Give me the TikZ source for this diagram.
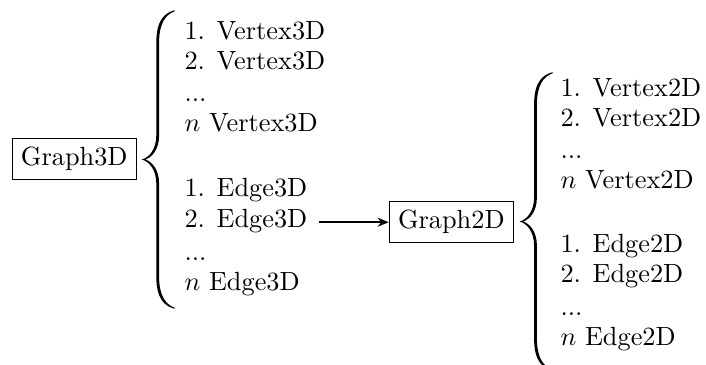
\documentclass[tikz,border=0pt]{standalone}
\usetikzlibrary{arrows.meta}
\begin{document}
\begin{tikzpicture}[x=0.38023pt,y=-0.38023pt,
  item/.style={anchor=base west,inner sep=0pt},
  gbox/.style={draw,line width=0.4pt,inner sep=3.33pt},
  conn/.style={line width=0.7pt,-{Stealth[length=4.2pt,width=3.4pt]}},
  bracepic/.pic={
    \fill (33,-149.3) .. controls (22.5,-146.5) and (14.6,-139) .. (14.6,-117)
      -- (14.6,-24) .. controls (14.6,-10) and (7,-1.5) .. (0,0)
      .. controls (7,1.5) and (14.6,10) .. (14.6,24)
      -- (14.6,117) .. controls (14.6,139) and (22.5,146.5) .. (33,149.3)
      -- (33,148.2) .. controls (24.5,145.3) and (17.4,137) .. (17.4,117)
      -- (17.4,24) .. controls (17.4,10) and (10,1.8) .. (3.5,0)
      .. controls (10,-1.8) and (17.4,-10) .. (17.4,-24)
      -- (17.4,-117) .. controls (17.4,-137) and (24.5,-145.3) .. (33,-148.2) -- cycle;
  }]
\useasboundingbox (0,0) rectangle (706,364);
% left group
\node[gbox] (g3) at (74.2,159.2) {Graph3D};
\pic at (141.7,159.5) {bracepic};
\node[item] (v31) at (184,39.0) {1. Vertex3D};
\node[item] (v32) at (184,69.5) {2. Vertex3D};
\node[item] (v3d) at (184,101.7) {...};
\node[item] (v3n) at (184,131.7) {$n$ Vertex3D};
\node[item] (e31) at (184,196.7) {1. Edge3D};
\node[item] (e32) at (184,227.3) {2. Edge3D};
\node[item] (e3d) at (184,260.7) {...};
\node[item] (e3n) at (184,290.7) {$n$ Edge3D};
% right group
\node[gbox] (g2) at (451.3,222.2) {Graph2D};
\pic at (519.5,221.5) {bracepic};
\node[item] (v21) at (560,96.7) {1. Vertex2D};
\node[item] (v22) at (560,126.7) {2. Vertex2D};
\node[item] (v2d) at (560,158.3) {...};
\node[item] (v2n) at (560,188.3) {$n$ Vertex2D};
\node[item] (e21) at (560,252.7) {1. Edge2D};
\node[item] (e22) at (560,282.7) {2. Edge2D};
\node[item] (e2d) at (560,315.0) {...};
\node[item] (e2n) at (560,345.0) {$n$ Edge2D};
% connector
\coordinate (as) at ([xshift=4.2pt]e32.east);
\draw[conn] (as |- g2.west) -- (g2.west);
\end{tikzpicture}
\end{document}
